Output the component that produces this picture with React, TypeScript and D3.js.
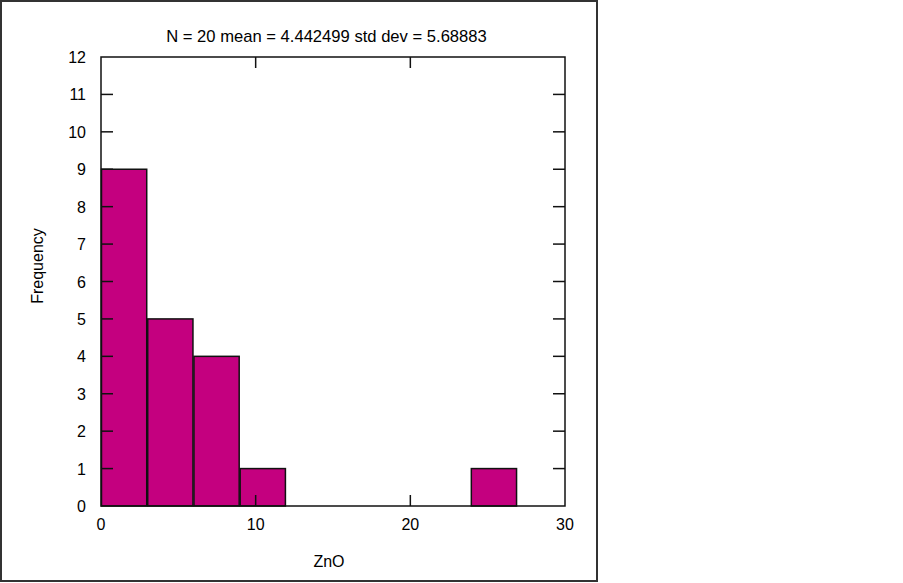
import React from "react";
import * as d3 from "d3";

const binCounts = [9, 5, 4, 1, 0, 0, 0, 0, 1];
const binStart = 0;
const binWidth = 26.9 / 9;
const xTicks = [0, 10, 20, 30];
const yTicks = [0, 1, 2, 3, 4, 5, 6, 7, 8, 9, 10, 11, 12];
const titleText = "N = 20 mean = 4.442499 std dev = 5.68883";
const xLabel = "ZnO";
const yLabel = "Frequency";

export default function App() {
  const W = 903, H = 583;
  const left = 101, right = 565, top = 57, bottom = 506;
  const x = d3.scaleLinear().domain([0, 30]).range([left, right]);
  const y = d3.scaleLinear().domain([0, 12]).range([bottom, top]);
  const font = "'Liberation Sans', Arial, sans-serif";
  const tickLen = 11;
  return (
    <svg width={W} height={H} style={{ position: "absolute", left: 0, top: 0 }} fontFamily={font}>
      <rect x={0} y={0} width={W} height={H} fill="#fff" />
      <rect x={1} y={1} width={596} height={580} fill="none" stroke="#333" strokeWidth={2} />
      {binCounts.map((c, i) => {
        if (c <= 0) return null;
        const x0 = x(binStart + i * binWidth);
        const x1 = x(binStart + (i + 1) * binWidth);
        return (
          <rect
            key={i}
            x={x0 + 0.5}
            y={y(c)}
            width={x1 - x0 - 1}
            height={y(0) - y(c)}
            fill="#C4007F"
            stroke="#111"
            strokeWidth={1.5}
          />
        );
      })}
      <rect x={left} y={top} width={right - left} height={bottom - top} fill="none" stroke="#111" strokeWidth={1.5} />
      {xTicks.slice(1, -1).map((t) => (
        <g key={t}>
          <line x1={x(t)} x2={x(t)} y1={bottom} y2={bottom - tickLen} stroke="#111" strokeWidth={1.5} />
          <line x1={x(t)} x2={x(t)} y1={top} y2={top + tickLen} stroke="#111" strokeWidth={1.5} />
        </g>
      ))}
      {yTicks.slice(1, -1).map((t) => (
        <g key={t}>
          <line x1={left} x2={left + 12} y1={y(t)} y2={y(t)} stroke="#111" strokeWidth={1.5} />
          <line x1={right} x2={right - 12} y1={y(t)} y2={y(t)} stroke="#111" strokeWidth={1.5} />
        </g>
      ))}
      {xTicks.map((t) => (
        <text key={t} x={x(t)} y={530} textAnchor="middle" fontSize={16} fill="#000">
          {t}
        </text>
      ))}
      {yTicks.map((t) => (
        <text key={t} x={86} y={y(t) + 6} textAnchor="end" fontSize={16} fill="#000">
          {t}
        </text>
      ))}
      <text x={326.5} y={42} textAnchor="middle" fontSize={16.6} fill="#000">
        {titleText}
      </text>
      <text x={329} y={567} textAnchor="middle" fontSize={16} fill="#000">
        {xLabel}
      </text>
      <text
        transform={`translate(43, 266) rotate(-90)`}
        textAnchor="middle"
        fontSize={16}
        fill="#000"
      >
        {yLabel}
      </text>
    </svg>
  );
}
